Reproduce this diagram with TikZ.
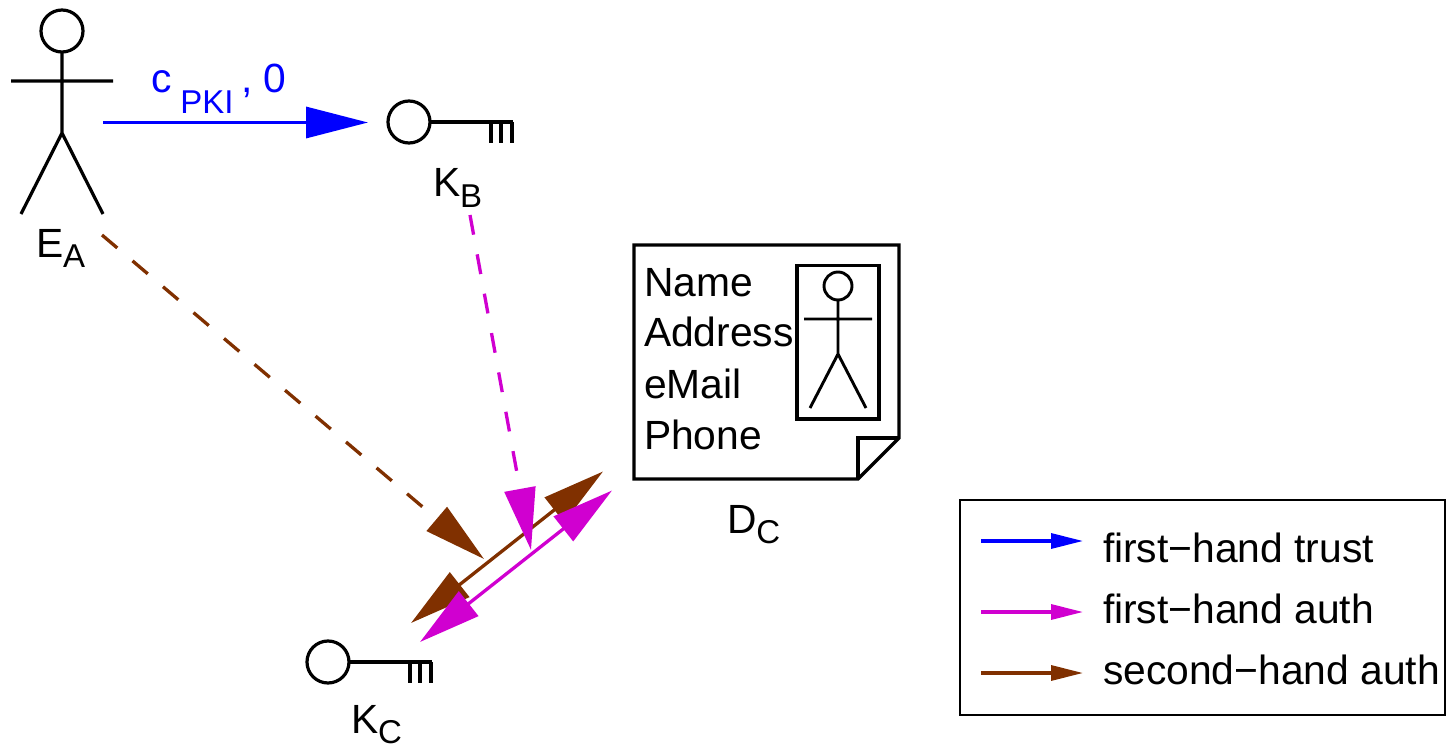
\documentclass[tikz,border=0pt]{standalone}
\usepackage{fontspec}
\setmainfont{Liberation Sans}
\usetikzlibrary{arrows.meta}
\newcommand{\bigtxt}{\fontsize{40.8}{41}\selectfont}
\newcommand{\subtxt}[1]{\raisebox{-10pt}{\fontsize{33}{33}\selectfont #1}}
\definecolor{trustblue}{RGB}{0,0,255}
\definecolor{authmag}{RGB}{208,0,208}
\definecolor{authbrown}{RGB}{128,48,0}
\tikzset{
  x=1pt,y=-1pt,
  txt/.style={anchor=base west,inner sep=0pt,outer sep=0pt,font=\bigtxt},
  ink/.style={draw=black,line width=3.2pt},
  thinink/.style={draw=black,line width=2.9pt},
  bigarrow/.style={line width=3.3pt,-{Triangle[length=62pt,width=31pt]}},
  bothway/.style={line width=3.3pt,{Triangle[length=62pt,width=31pt]}-{Triangle[length=62pt,width=31pt]}},
  legarrow/.style={line width=3.3pt,-{Triangle[length=32pt,width=15pt]}},
  dashline/.style={dash pattern=on 20pt off 20pt},
}
\begin{document}
\begin{tikzpicture}
\useasboundingbox (0,0) rectangle (1446,746);
% actor
\draw[ink] (62,31) circle (21);
\draw[ink] (62,52) -- (62,133) (11,81) -- (113,81) (21,214) -- (62,133) -- (103,214);
\node[txt] (ea) at (36,258) {E\subtxt{A}};
% key B
\draw[ink] (409,122) circle (21);
\draw[ink] (430,122) -- (513,122) (491,122) -- (491,143) (501,122) -- (501,143) (512,122) -- (512,143);
\node[txt] (kb) at (433,197) {K\subtxt{B}};
% key C
\draw[ink] (328,662) circle (21);
\draw[ink] (349,662) -- (432,662) (410,662) -- (410,683) (420,662) -- (420,683) (431,662) -- (431,683);
\node[txt] (kc) at (351,733) {K\subtxt{C}};
% document
\draw[ink,line join=miter] (634,245) -- (899,245) -- (899,438) -- (858,479) -- (634,479) -- cycle;
\draw[ink] (858,479) -- (858,438) -- (899,438);
\draw[ink,line width=3.15pt] (797,265.3) rectangle (879,419);
\draw[thinink] (838,286) circle (14);
\draw[thinink] (838,300) -- (838,354) (804,319) -- (872,319) (810,408) -- (838,354) -- (866,408);
\node[txt] (n1) at (644,296) {Name};
\node[txt] (n2) at (644,346) {Address};
\node[txt] (n3) at (644,398) {eMail};
\node[txt] (n4) at (644,449) {Phone};
\node[txt] (dc) at (727,533) {D\subtxt{C}};
% connector ends
\coordinate (a1) at (103,122.5);
\coordinate (a2) at (368,122.5);
\coordinate (b1) at (102,235);
\coordinate (b2) at (484,559);
\coordinate (c1) at (470,215);
\coordinate (c2) at (531,550);
\coordinate (d1) at (411,623);
\coordinate (d2) at (603,471.5);
\coordinate (e1) at (420,642);
\coordinate (e2) at (612,490.5);
% connectors
\draw[bigarrow,trustblue] (a1) -- (a2);
\node[txt,text=trustblue] (pki) at (151,93) {c\hspace{9pt}\subtxt{\raisebox{-11pt}{PKI}}};
\node[txt,text=trustblue] (pki2) at (241,93) {, 0};
\draw[bigarrow,authbrown,dashline] (b1) -- (b2);
\draw[bothway,authbrown] (d1) -- (d2);
\draw[bigarrow,authmag,dashline] (c1) -- (c2);
\draw[bothway,authmag] (e1) -- (e2);
% legend
\draw[black,line width=1.5pt] (960,500) rectangle (1445,715);
\coordinate (l1a) at (981,541); \coordinate (l1b) at (1083,541);
\coordinate (l2a) at (981,612); \coordinate (l2b) at (1083,612);
\coordinate (l3a) at (981,673); \coordinate (l3b) at (1083,673);
\draw[legarrow,trustblue] (l1a) -- (l1b);
\draw[legarrow,authmag] (l2a) -- (l2b);
\draw[legarrow,authbrown] (l3a) -- (l3b);
\node[txt] (t1) at (1103,562) {first−hand trust};
\node[txt] (t2) at (1103,623) {first−hand auth};
\node[txt] (t3) at (1103,684) {second−hand auth};
\end{tikzpicture}
\end{document}
